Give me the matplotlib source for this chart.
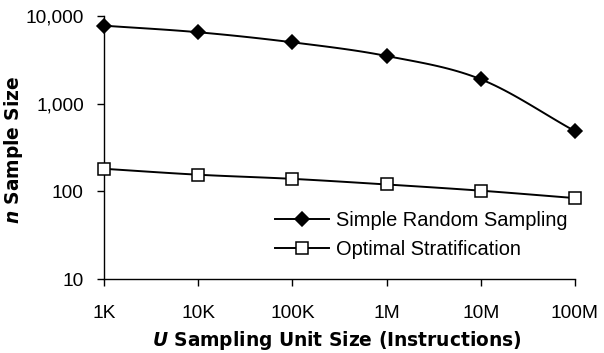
import numpy as np
import matplotlib
matplotlib.use("Agg")
import matplotlib.pyplot as plt
from matplotlib.ticker import FixedLocator, FuncFormatter, NullLocator

plt.rcParams['font.family'] = ['Liberation Sans', 'DejaVu Sans']
plt.rcParams['mathtext.fontset'] = 'custom'
plt.rcParams['mathtext.bfit'] = 'DejaVu Sans:italic:bold'
plt.rcParams['mathtext.rm'] = 'DejaVu Sans'

categories = ["1K", "10K", "100K", "1M", "10M", "100M"]
srs_values = [7700, 6480, 4980, 3480, 1890, 485]
opt_values = [181, 155, 139, 120, 102, 84]
y_ticks = [10, 100, 1000, 10000]


def smooth(xs, ys, n=20):
    """Catmull-Rom curve through the points (drawn in log space)."""
    xs = np.asarray(xs, float)
    ys = np.log10(np.asarray(ys, float))
    px = np.concatenate([[2 * xs[0] - xs[1]], xs, [2 * xs[-1] - xs[-2]]])
    py = np.concatenate([[2 * ys[0] - ys[1]], ys, [2 * ys[-1] - ys[-2]]])
    ox, oy = [], []
    for i in range(1, len(px) - 2):
        t = np.linspace(0, 1, n, endpoint=False)
        for arr, out in ((px, ox), (py, oy)):
            p0, p1, p2, p3 = arr[i - 1], arr[i], arr[i + 1], arr[i + 2]
            out.extend(0.5 * ((2 * p1) + (-p0 + p2) * t
                              + (2 * p0 - 5 * p1 + 4 * p2 - p3) * t ** 2
                              + (-p0 + 3 * p1 - 3 * p2 + p3) * t ** 3))
    ox.append(xs[-1]); oy.append(ys[-1])
    return np.array(ox), 10 ** np.array(oy)


W, H = 604, 353
L, R, T, B = 104, 575, 15.7, 279.3
fig = plt.figure(figsize=(W / 100, H / 100), dpi=100)
ax = fig.add_axes([L / W, 1 - B / H, (R - L) / W, (B - T) / H])

FS = 13.8
LFS = 14.4
LABFS = 13.4

x = np.arange(len(categories))
for vals, mk, fc, ms, lab in ((srs_values, 'D', 'black', 6.8, 'Simple Random Sampling'),
                              (opt_values, 's', 'white', 8.0, 'Optimal Stratification')):
    sx, sy = smooth(x, vals)
    ax.plot(sx, sy, color='black', lw=1.4, zorder=2, clip_on=False)
    ax.plot(x, vals, linestyle='none', marker=mk, markersize=ms, markerfacecolor=fc,
            markeredgecolor='black', markeredgewidth=1.1, zorder=3, clip_on=False)
    ax.plot([], [], color='black', lw=1.4, marker=mk, markersize=ms,
            markerfacecolor=fc, markeredgecolor='black', markeredgewidth=1.1, label=lab)

ax.set_yscale('log')
ax.set_ylim(10, 10000)
ax.set_xlim(0, len(categories) - 1)
ax.yaxis.set_major_locator(FixedLocator(y_ticks))
ax.yaxis.set_minor_locator(NullLocator())
ax.yaxis.set_major_formatter(FuncFormatter(lambda v, p: f"{int(round(v)):,}"))
ax.set_xticks(x)
ax.set_xticklabels(categories)

for s in ('top', 'right'):
    ax.spines[s].set_visible(False)
for s in ('left', 'bottom'):
    ax.spines[s].set_linewidth(1.0)

ax.tick_params(axis='y', direction='out', length=5, width=1, pad=9.5, labelsize=FS)
ax.tick_params(axis='x', direction='out', length=5, width=1, pad=13.5, labelsize=FS)

ax.set_xlabel(r"$\mathbfit{U}$ Sampling Unit Size (Instructions)", fontsize=LABFS,
              fontweight='bold', family='DejaVu Sans')
ax.set_ylabel(r"$\mathbfit{n}$ Sample Size", fontsize=LABFS, fontweight='bold',
              family='DejaVu Sans')
ax.xaxis.set_label_coords((337 - L) / (R - L), (B - 329) / (B - T))
ax.yaxis.set_label_coords((25 - L) / (R - L), (B - 150) / (B - T))

ax.legend(loc='upper left', bbox_to_anchor=(275 / W, 1 - 211 / H),
          bbox_transform=fig.transFigure, frameon=False, fontsize=LFS,
          borderpad=0, borderaxespad=0,
          handlelength=2.71, handletextpad=0.35, labelspacing=0.5)

fig.savefig("out.png", dpi=100)
